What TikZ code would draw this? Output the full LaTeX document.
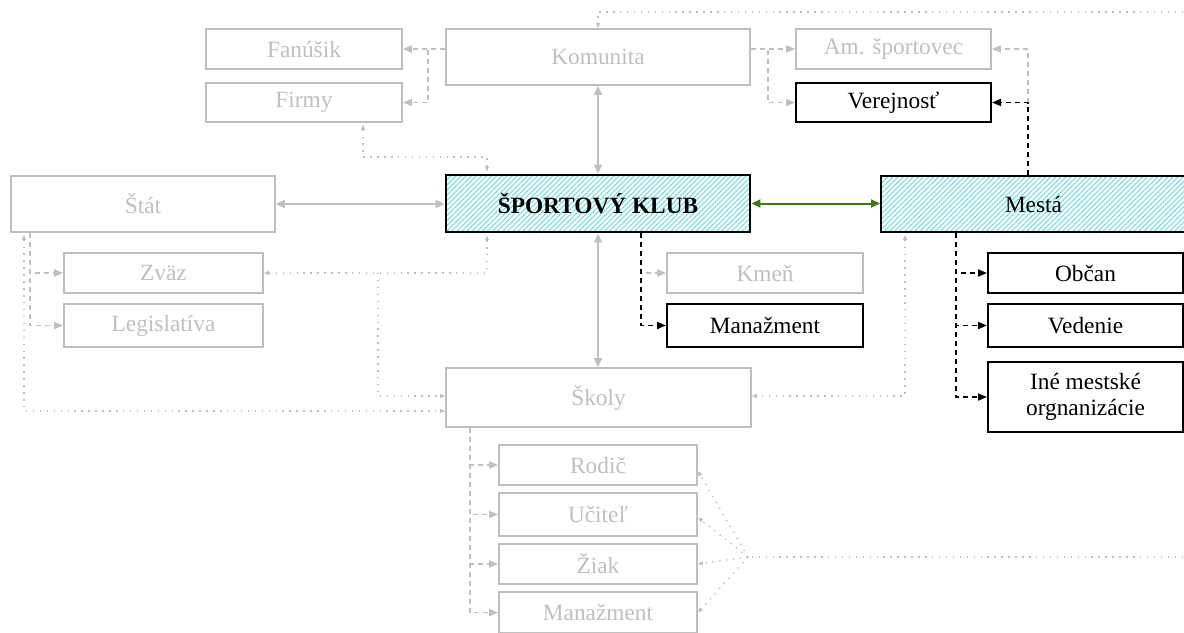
\documentclass[tikz,border=0pt]{standalone}
\usepackage{fontspec}
\setmainfont{Liberation Serif}
\usetikzlibrary{arrows.meta,patterns.meta,calc}
\newdimen\px \px=0.75pt
\definecolor{lg}{RGB}{191,191,191}
\definecolor{hatchc}{RGB}{112,222,228}
\definecolor{linkgreen}{RGB}{58,122,16}

\tikzset{
  gtip/.tip={Triangle[length=6.75pt,width=6pt]},
  mtip/.tip={Triangle[length=6.75pt,width=5.25pt]},
  stip/.tip={Triangle[length=3.75pt,width=3pt]},
  box/.style={rectangle, inner sep=0pt, align=center,
    font=\fontsize{17.5pt}{20pt}\selectfont},
  gbox/.style={box, draw=lg, line width=1.35pt, text=lg},
  bbox/.style={box, draw=black, line width=1.5pt, text=black},
  hbox/.style={box, draw=black, line width=1.5pt, text=black,
    pattern={Lines[angle=45,distance=2.7pt,line width=0.8pt]},
    pattern color=hatchc},
  gsolid/.style={draw=lg, line width=1.5pt, gtip-gtip},
  linkline/.style={draw=linkgreen, line width=1.5pt, gtip-gtip},
  gdash/.style={draw=lg, line width=1.35pt, dash pattern=on 3.75pt off 3pt, -mtip},
  bdash/.style={draw=black, line width=1.35pt, dash pattern=on 3.75pt off 3pt, -mtip},
  gdot/.style={draw=lg, line width=1pt, dash pattern=on 1.1pt off 4.1pt},
  gdotend/.style={gdot, -stip},
  gdotboth/.style={gdot, stip-stip},
}

\begin{document}
\begin{tikzpicture}[x=0.75pt, y=-0.75pt]
\useasboundingbox (0,0) rectangle (1184,632);
\clip (0,0) rectangle (1184,632);

% ---- nodes ----
\node[gbox, minimum width=196\px, minimum height=40\px] (fan) at (304,49) {Fanúšik};
\node[gbox, minimum width=196\px, minimum height=39\px] (firmy) at (304,102.5) {Firmy};
\node[gbox, minimum width=304\px, minimum height=56\px] (kom) at (598,57) {Komunita};
\node[gbox, minimum width=195\px, minimum height=40\px] (ams) at (893.5,49) {Am. športovec};
\node[bbox, minimum width=195\px, minimum height=39\px] (verej) at (893.5,102.5) {Verejnosť};

\node[gbox, minimum width=264\px, minimum height=56\px] (stat) at (143,204) {Štát};
\node[hbox, line width=2.2pt, minimum width=304\px, minimum height=57\px, font=\fontsize{17.5pt}{20pt}\selectfont\bfseries] (klub) at (598,203.5) {ŠPORTOVÝ KLUB};
\node[hbox, minimum width=305\px, minimum height=56\px] (mesta) at (1033.5,204) {Mestá};

\node[gbox, minimum width=199\px, minimum height=40\px] (zvaz) at (163.5,273) {Zväz};
\node[gbox, minimum width=199\px, minimum height=43\px] (legis) at (163.5,325.5) {Legislatíva};
\node[gbox, minimum width=196\px, minimum height=40\px] (kmen) at (765,273) {Kmeň};
\node[bbox, minimum width=196\px, minimum height=43\px] (manaz) at (765,325.5) {Manažment};
\node[bbox, minimum width=195\px, minimum height=40\px] (obcan) at (1085.5,273) {Občan};
\node[bbox, minimum width=195\px, minimum height=43\px] (veden) at (1085.5,325.5) {Vedenie};
\node[bbox, minimum width=195\px, minimum height=70\px] (ine) at (1085.5,397) {Iné mestské\\orgnanizácie};

\node[gbox, minimum width=305\px, minimum height=59\px] (skoly) at (598.5,397.5) {Školy};
\node[gbox, minimum width=198\px, minimum height=40\px] (rodic) at (598,465) {Rodič};
\node[gbox, minimum width=198\px, minimum height=43\px] (ucitel) at (598,514.5) {Učiteľ};
\node[gbox, minimum width=198\px, minimum height=40\px] (ziak) at (598,564) {Žiak};
\node[gbox, minimum width=198\px, minimum height=41\px] (manaz2) at (598,612.5) {Manažment};

% ---- helper points for dotted runs ----
\coordinate (topR) at (1190,12);
\coordinate (fanR) at (1190,557);
\coordinate (fanC) at (748,557);
\coordinate (fk) at (487,157);
\coordinate (zj) at (378,273);

% ---- solid links ----
\draw[gsolid] (kom.south) -- (kom.south |- klub.north);
\draw[gsolid] (stat.east) -- (stat.east -| klub.west);
\draw[gsolid] (klub.south) -- (klub.south |- skoly.north);
\draw[linkline] (klub.east) -- (klub.east -| mesta.west);

% ---- dashed links ----
\draw[gdash] (kom.west |- fan.east) -- (fan.east);
\draw[gdash] (kom.west |- fan.east) -- ++(-17,0) |- (firmy.east);
\draw[gdash] (kom.east |- ams.west) -- (ams.west);
\draw[gdash] (kom.east |- ams.west) -- ++(17,0) |- (verej.west);
\draw[gdash] ([xshift=-5.5\px]mesta.north) |- (ams.east);
\draw[bdash] ([xshift=-5.5\px]mesta.north) |- (verej.east);

\draw[gdash] ([xshift=-113\px]stat.south) |- (zvaz.west);
\draw[gdash] ([xshift=-113\px]stat.south) |- (legis.west);

\draw[gdash] ([xshift=43\px]klub.south) |- (kmen.west);
\draw[bdash] ([xshift=43\px]klub.south) |- (manaz.west);

\draw[bdash] ([xshift=-77.5\px]mesta.south) |- (obcan.west);
\draw[bdash] ([xshift=-77.5\px]mesta.south) |- (veden.west);
\draw[bdash] ([xshift=-77.5\px]mesta.south) |- (ine.west);

\draw[gdash] ([xshift=-128.5\px]skoly.south) |- (rodic.west);
\draw[gdash] ([xshift=-128.5\px]skoly.south) |- (ucitel.west);
\draw[gdash] ([xshift=-128.5\px]skoly.south) |- (ziak.west);
\draw[gdash] ([xshift=-128.5\px]skoly.south) |- (manaz2.west);

% ---- dotted links ----
\draw[gdotend] (topR) -| (kom.north);
\draw[gdotboth] ([xshift=59\px,yshift=-2\px]firmy.south) |- (fk) -- ([xshift=-111\px,yshift=2\px]klub.north);
\draw[gdotboth] ([xshift=-111\px,yshift=-2\px]klub.south) |- (zvaz.east);
\draw[gdotend] (zj) |- ([yshift=1.5\px]skoly.west);
\draw[gdotboth] ([xshift=-119\px,yshift=-2\px]stat.south) |- ([yshift=-13.5\px]skoly.west);
\draw[gdotboth] ([xshift=-128.5\px,yshift=-2\px]mesta.south) |- ([yshift=1.5\px]skoly.east);

\draw[gdot] (fanR) -- (fanC);
\draw[gdotend] (fanC) -- ([yshift=-6\px]rodic.east);
\draw[gdotend] (fanC) -- ([yshift=-3\px]ucitel.east);
\draw[gdotend] (fanC) -- (ziak.east);
\draw[gdotend] (fanC) -- (manaz2.east);
\end{tikzpicture}
\end{document}
